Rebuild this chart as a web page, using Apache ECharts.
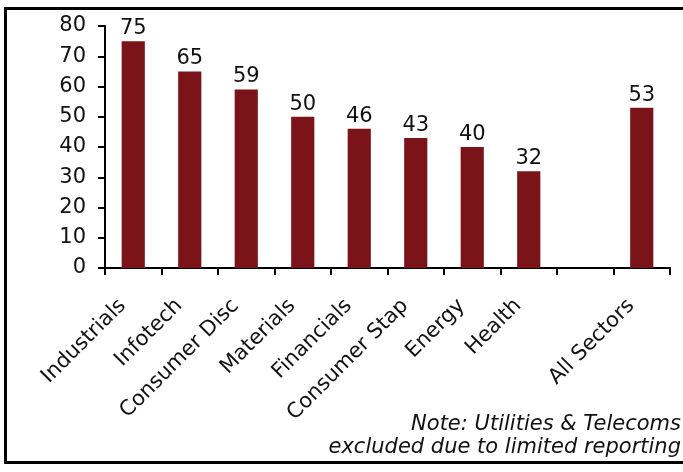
<!DOCTYPE html>
<html><head><meta charset="utf-8">
<script src="https://cdn.jsdelivr.net/npm/echarts@6/dist/echarts.min.js"></script>
<style>html,body{margin:0;padding:0;background:#fff}#c{width:683px;height:472px}</style>
</head><body><div id="c"></div>
<script>
const categories = ['Industrials','Infotech','Consumer Disc','Materials','Financials','Consumer Stap','Energy','Health','','All Sectors'];
const values = [75, 65, 59, 50, 46, 43, 40, 32, null, 53];
const yTicks = [0, 10, 20, 30, 40, 50, 60, 70, 80];
const noteLines = ['Note: Utilities & Telecoms', 'excluded due to limited reporting'];

const FONT = 'DejaVu Sans';
const chart = echarts.init(document.getElementById('c'));
chart.setOption({
  animation: false,
  backgroundColor: '#fff',
  textStyle: {fontFamily: FONT},
  grid: {left: 105, right: 13, top: 26, bottom: 204},
  xAxis: {
    type: 'category', data: categories, boundaryGap: true,
    axisLine: {lineStyle: {color: '#000', width: 2}},
    axisTick: {show: true, alignWithLabel: false, length: 7, lineStyle: {color: '#000', width: 2}},
    axisLabel: {rotate: 45, interval: 0, color: '#111', fontSize: 21, fontFamily: FONT, margin: 24, padding: [0, 15, 0, 0]}
  },
  yAxis: {
    type: 'value', min: yTicks[0], max: yTicks[yTicks.length-1], interval: 10,
    splitLine: {show: false},
    axisLine: {show: true, lineStyle: {color: '#000', width: 2}},
    axisTick: {show: true, length: 7, lineStyle: {color: '#000', width: 2}},
    axisLabel: {color: '#111', fontSize: 21, fontFamily: FONT, margin: 19}
  },
  series: [{
    type: 'bar', data: values, barWidth: '41%',
    itemStyle: {color: '#7b1419'},
    label: {show: true, position: 'top', distance: 2, color: '#111', fontSize: 21, fontFamily: FONT}
  }],
  graphic: [
    {type: 'rect', shape: {x: 5.5, y: 8.5, width: 720, height: 454}, style: {fill: 'none', stroke: '#000', lineWidth: 3}, z: 100},
    {type: 'text', x: 681, y: 425, style: {text: noteLines[0], font: 'italic 21px "DejaVu Sans"', fill: '#111', align: 'right', verticalAlign: 'middle'}},
    {type: 'text', x: 681, y: 448, style: {text: noteLines[1], font: 'italic 21px "DejaVu Sans"', fill: '#111', align: 'right', verticalAlign: 'middle'}}
  ]
});
</script></body></html>
